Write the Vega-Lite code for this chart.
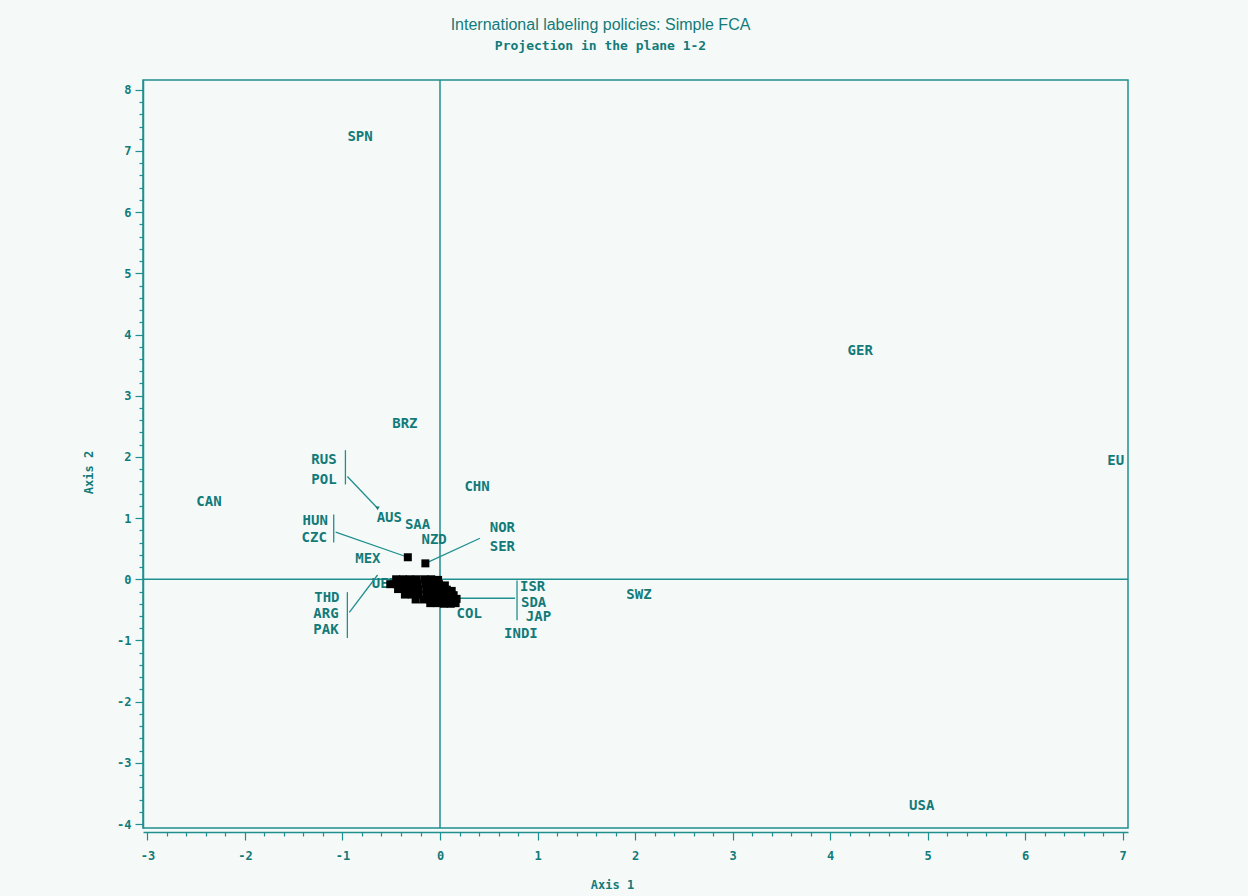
{
  "$schema": "https://vega.github.io/schema/vega-lite/v6.json",
  "autosize": "none",
  "width": 985,
  "height": 748,
  "padding": {"left": 143, "top": 80, "right": 120, "bottom": 68},
  "background": "#f5faf8",
  "title": {
    "text": "International labeling policies: Simple FCA",
    "subtitle": "Projection in the plane 1-2",
    "dx": -35,
    "offset": 26,
    "font": "Liberation Sans",
    "fontSize": 16,
    "fontWeight": "normal",
    "color": "#137a7a",
    "subtitleFont": "DejaVu Sans Mono",
    "subtitleFontSize": 13,
    "subtitleFontWeight": "bold",
    "subtitleColor": "#137a7a",
    "subtitlePadding": 7
  },
  "config": {
    "view": {"stroke": "#1f8f8f", "strokeWidth": 1.5, "fill": "#f5faf8"},
    "axis": {
      "grid": false,
      "domainColor": "#1f8f8f",
      "domainWidth": 1.5,
      "tickColor": "#1f8f8f",
      "tickWidth": 1.2,
      "labelColor": "#137a7a",
      "labelFont": "DejaVu Sans Mono",
      "labelFontSize": 12,
      "labelFontWeight": "bold",
      "titleColor": "#137a7a",
      "titleFont": "DejaVu Sans Mono",
      "titleFontSize": 12,
      "titleFontWeight": "bold"
    }
  },
  "datasets": {
    "labels": [
      {"label": "SPN", "x": -0.82, "y": 7.23},
      {"label": "GER", "x": 4.31, "y": 3.73},
      {"label": "EU", "x": 6.93, "y": 1.93},
      {"label": "BRZ", "x": -0.36, "y": 2.53},
      {"label": "RUS", "x": -1.19, "y": 1.95},
      {"label": "POL", "x": -1.19, "y": 1.63},
      {"label": "CAN", "x": -2.37, "y": 1.26},
      {"label": "CHN", "x": 0.38, "y": 1.5},
      {"label": "AUS", "x": -0.52, "y": 1.0},
      {"label": "SAA", "x": -0.23, "y": 0.88},
      {"label": "HUN", "x": -1.28, "y": 0.96},
      {"label": "CZC", "x": -1.29, "y": 0.67},
      {"label": "NZD", "x": -0.06, "y": 0.65},
      {"label": "NOR", "x": 0.64, "y": 0.83},
      {"label": "SER", "x": 0.64, "y": 0.52},
      {"label": "MEX", "x": -0.74, "y": 0.33},
      {"label": "ISR", "x": 0.95, "y": -0.13},
      {"label": "SDA", "x": 0.96, "y": -0.39},
      {"label": "JAP", "x": 1.01, "y": -0.62},
      {"label": "INDI", "x": 0.83, "y": -0.9},
      {"label": "COL", "x": 0.3, "y": -0.57},
      {"label": "SWZ", "x": 2.04, "y": -0.25},
      {"label": "THD", "x": -1.16, "y": -0.31},
      {"label": "ARG", "x": -1.17, "y": -0.57},
      {"label": "PAK", "x": -1.17, "y": -0.83},
      {"label": "USA", "x": 4.94, "y": -3.71},
      {"label": "UEN", "x": -0.57, "y": -0.07}
    ],
    "leaders": [
      {"x": -0.97, "y": 2.11, "x2": -0.97, "y2": 1.55},
      {"x": -0.95, "y": 1.68, "x2": -0.64, "y2": 1.16},
      {"x": -1.09, "y": 1.06, "x2": -1.09, "y2": 0.6},
      {"x": -1.07, "y": 0.77, "x2": -0.33, "y2": 0.36},
      {"x": 0.41, "y": 0.67, "x2": -0.15, "y2": 0.26},
      {"x": -0.95, "y": -0.21, "x2": -0.95, "y2": -0.96},
      {"x": -0.93, "y": -0.54, "x2": -0.64, "y2": 0.07},
      {"x": 0.79, "y": -0.02, "x2": 0.79, "y2": -0.67},
      {"x": 0.15, "y": -0.31, "x2": 0.77, "y2": -0.31}
    ],
    "ends": [
      {"x": -0.64, "y": 1.16}
    ],
    "points": [
      {"x": -0.33, "y": 0.36}, {"x": -0.15, "y": 0.26},
      {"x": -0.45, "y": 0.0}, {"x": -0.38, "y": 0.0}, {"x": -0.31, "y": 0.0}, {"x": -0.24, "y": 0.0}, {"x": -0.16, "y": 0.0}, {"x": -0.09, "y": 0.0}, {"x": -0.02, "y": -0.01},
      {"x": -0.51, "y": -0.08}, {"x": -0.44, "y": -0.08}, {"x": -0.37, "y": -0.08}, {"x": -0.3, "y": -0.08}, {"x": -0.23, "y": -0.08}, {"x": -0.15, "y": -0.08}, {"x": -0.08, "y": -0.08}, {"x": -0.01, "y": -0.08}, {"x": 0.05, "y": -0.1},
      {"x": -0.43, "y": -0.16}, {"x": -0.36, "y": -0.16}, {"x": -0.29, "y": -0.16}, {"x": -0.22, "y": -0.16}, {"x": -0.14, "y": -0.16}, {"x": -0.07, "y": -0.16}, {"x": 0.0, "y": -0.16}, {"x": 0.07, "y": -0.17}, {"x": 0.12, "y": -0.19},
      {"x": -0.36, "y": -0.25}, {"x": -0.29, "y": -0.25}, {"x": -0.22, "y": -0.25}, {"x": -0.14, "y": -0.25}, {"x": -0.07, "y": -0.25}, {"x": 0.0, "y": -0.25}, {"x": 0.07, "y": -0.25}, {"x": 0.14, "y": -0.26},
      {"x": -0.25, "y": -0.33}, {"x": -0.17, "y": -0.33}, {"x": -0.1, "y": -0.33}, {"x": -0.03, "y": -0.33}, {"x": 0.04, "y": -0.33}, {"x": 0.11, "y": -0.33}, {"x": 0.17, "y": -0.32},
      {"x": -0.1, "y": -0.39}, {"x": -0.03, "y": -0.39}, {"x": 0.04, "y": -0.4}, {"x": 0.11, "y": -0.4}, {"x": 0.16, "y": -0.39}
    ]
  },
  "encoding": {
    "x": {
      "type": "quantitative",
      "scale": {"domain": [-3.046, 7.056], "nice": false, "zero": false},
      "axis": {
        "title": "Axis 1",
        "offset": 4,
        "titleX": 469,
        "titlePadding": 18,
        "values": [-3, -2.8, -2.6, -2.4, -2.2, -2, -1.8, -1.6, -1.4, -1.2, -1, -0.8, -0.6, -0.4, -0.2, 0, 0.2, 0.4, 0.6, 0.8, 1, 1.2, 1.4, 1.6, 1.8, 2, 2.2, 2.4, 2.6, 2.8, 3, 3.2, 3.4, 3.6, 3.8, 4, 4.2, 4.4, 4.6, 4.8, 5, 5.2, 5.4, 5.6, 5.8, 6, 6.2, 6.4, 6.6, 6.8, 7],
        "labelExpr": "datum.value % 1 === 0 ? (datum.value < 0 ? '-' + abs(datum.value) : '' + datum.value) : ''",
        "tickSize": {"condition": {"test": "datum.value % 1 === 0", "value": 8}, "value": 4},
        "labelPadding": 10
      }
    },
    "y": {
      "type": "quantitative",
      "scale": {"domain": [-4.065, 8.16], "nice": false, "zero": false},
      "axis": {
        "title": "Axis 2",
        "titleY": 392,
        "titleX": -48,
        "values": [-4, -3.8, -3.6, -3.4, -3.2, -3, -2.8, -2.6, -2.4, -2.2, -2, -1.8, -1.6, -1.4, -1.2, -1, -0.8, -0.6, -0.4, -0.2, 0, 0.2, 0.4, 0.6, 0.8, 1, 1.2, 1.4, 1.6, 1.8, 2, 2.2, 2.4, 2.6, 2.8, 3, 3.2, 3.4, 3.6, 3.8, 4, 4.2, 4.4, 4.6, 4.8, 5, 5.2, 5.4, 5.6, 5.8, 6, 6.2, 6.4, 6.6, 6.8, 7, 7.2, 7.4, 7.6, 7.8, 8],
        "labelExpr": "datum.value % 1 === 0 ? (datum.value < 0 ? '-' + abs(datum.value) : '' + datum.value) : ''",
        "tickSize": {"condition": {"test": "datum.value % 1 === 0", "value": 8}, "value": 4},
        "labelPadding": 4
      }
    }
  },
  "layer": [
    {
      "data": {"values": [{"v": 0}]},
      "mark": {"type": "rule", "color": "#1f8f8f", "strokeWidth": 1.5},
      "encoding": {"x": {"field": "v"}, "y": null}
    },
    {
      "data": {"values": [{"v": 0}]},
      "mark": {"type": "rule", "color": "#1f8f8f", "strokeWidth": 1.5},
      "encoding": {"y": {"field": "v"}, "x": null}
    },
    {
      "data": {"name": "labels"},
      "mark": {"type": "text", "font": "DejaVu Sans Mono", "fontSize": 14, "fontWeight": "bold", "color": "#137a7a", "align": "center", "baseline": "middle"},
      "encoding": {
        "x": {"field": "x"},
        "y": {"field": "y"},
        "text": {"field": "label"}
      }
    },
    {
      "data": {"name": "leaders"},
      "mark": {"type": "rule", "color": "#1f8f8f", "strokeWidth": 1.3},
      "encoding": {
        "x": {"field": "x"},
        "y": {"field": "y"},
        "x2": {"field": "x2"},
        "y2": {"field": "y2"}
      }
    },
    {
      "data": {"name": "ends"},
      "mark": {"type": "point", "shape": "triangle-down", "filled": true, "color": "#137a7a", "opacity": 1, "size": 18},
      "encoding": {
        "x": {"field": "x"},
        "y": {"field": "y"}
      }
    },
    {
      "data": {"name": "points"},
      "mark": {"type": "point", "shape": "square", "filled": true, "color": "#000000", "opacity": 1, "size": 64},
      "encoding": {
        "x": {"field": "x"},
        "y": {"field": "y"}
      }
    }
  ]
}
